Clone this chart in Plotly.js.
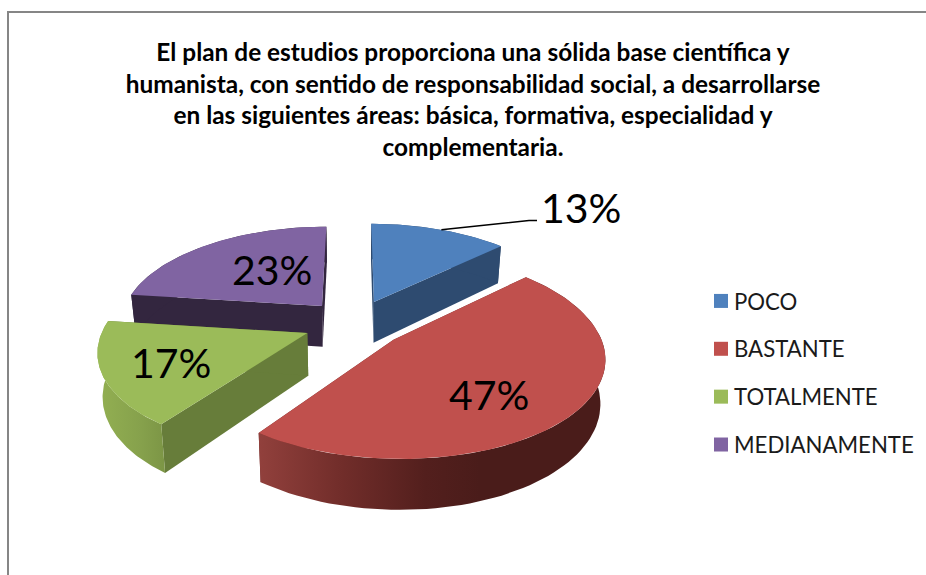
<!DOCTYPE html>
<html>
<head>
<meta charset="utf-8">
<script src="https://cdn.plot.ly/plotly-3.0.0.min.js"></script>
<style>html,body{margin:0;padding:0;background:#fff;overflow:hidden}#chart{width:926px;height:575px}</style>
</head>
<body>
<div id="chart"></div>
<script>
// Data
const categories = ['POCO', 'BASTANTE', 'TOTALMENTE', 'MEDIANAMENTE'];
const percentages = [13, 47, 17, 23];
const titleLines = [
  'El plan de estudios proporciona una sólida base científica y',
  'humanista, con sentido de responsabilidad social, a desarrollarse',
  'en las siguientes áreas: básica, formativa, especialidad y',
  'complementaria.'
];

// Styles
const topColors = ['#4f81bd', '#c0504d', '#9bbb59', '#8064a2'];
const cutColors = ['#2e4b70', '#6b2a28', '#677d3a', '#33263f'];
const labelPos = [[581, 207], [489, 394], [171, 362], [272, 269]];
const FONT = 'Lato, Carlito, Calibri, sans-serif';

// Projection of the tilted, exploded pie into page coordinates
const cam = {x0: 354.5, y0: 323.4, A: 202.5, B: 96, k: 0.15, px: 1.06, explode: 0.25, depth: 42, shrink: 0.98};
function project(u, v, bottom) {
  const w = 1 - cam.k * v;
  let x = cam.x0 + cam.A * u / Math.pow(w, cam.px);
  let y = cam.y0 + cam.B * v / w;
  if (bottom) {
    x = cam.x0 + (x - cam.x0) * cam.shrink;
    y += cam.depth / w;
  }
  return [x, y];
}
function slicePoint(a, mid, r, bottom) {
  const e = cam.explode;
  return project(e * Math.sin(mid) + r * Math.sin(a), -e * Math.cos(mid) - r * Math.cos(a), bottom);
}
function arc(a0, a1, mid, bottom) {
  const pts = [], n = 80;
  for (let i = 0; i <= n; i++) pts.push(slicePoint(a0 + (a1 - a0) * i / n, mid, 1, bottom));
  return pts;
}
function poly(pts, color, gradient) {
  const t = {
    type: 'scatter', mode: 'lines', x: pts.map(p => p[0]).concat(pts[0][0]),
    y: pts.map(p => p[1]).concat(pts[0][1]), fill: 'toself', fillcolor: color,
    line: {width: 0}, showlegend: false, hoverinfo: 'skip'
  };
  if (gradient) t.fillgradient = gradient;
  return t;
}

const total = percentages.reduce((a, b) => a + b, 0);
const slices = [];
let acc = 0;
percentages.forEach((p, i) => {
  const a0 = acc / total * 2 * Math.PI;
  acc += p;
  const a1 = acc / total * 2 * Math.PI;
  slices.push({i, a0, a1, mid: (a0 + a1) / 2});
});

const arcGradients = {
  1: {type: 'horizontal', start: 260, stop: 480,
      colorscale: [[0, '#91403c'], [0.35, '#732e2b'], [0.75, '#531f1d'], [1, '#4a1c1a']]},
  2: {type: 'horizontal', start: 97, stop: 170,
      colorscale: [[0, '#93b052'], [0.6, '#86a14c'], [1, '#7a9344']]}
};

// Back slices first so that the nearer ones cover them
const paintOrder = [3, 0, 2, 1];
const traces = [];
paintOrder.forEach(idx => {
  const s = slices[idx];
  const apexT = slicePoint(0, s.mid, 0, false), apexB = slicePoint(0, s.mid, 0, true);
  const wall = a => [apexT, slicePoint(a, s.mid, 1, false), slicePoint(a, s.mid, 1, true), apexB];
  traces.push(poly(wall(s.a0), cutColors[idx]));
  traces.push(poly(wall(s.a1), cutColors[idx]));
  const outer = arc(s.a0, s.a1, s.mid, false).concat(arc(s.a0, s.a1, s.mid, true).reverse());
  traces.push(poly(outer, cutColors[idx], arcGradients[idx]));
  traces.push(poly([apexT].concat(arc(s.a0, s.a1, s.mid, false)), topColors[idx]));
});

// Legend entries
categories.forEach((c, i) => traces.push({
  type: 'scatter', mode: 'markers', x: [null], y: [null], name: c, legendgroup: c,
  marker: {symbol: 'square', size: 14, color: topColors[i]}, hoverinfo: 'skip'
}));

const annotations = percentages.map((p, i) => ({
  x: labelPos[i][0], y: labelPos[i][1], xref: 'x', yref: 'y', text: p + '%', showarrow: false,
  xanchor: 'center', yanchor: 'middle', font: {family: FONT, size: 41, color: '#000'}
}));

const leaderStart = slicePoint(slices[0].a0 + 0.42, slices[0].mid, 1, false);
const shapes = [
  {type: 'line', xref: 'x', yref: 'y', x0: 8, x1: 926, y0: 12, y1: 12, line: {color: '#868686', width: 2}},
  {type: 'line', xref: 'x', yref: 'y', x0: 8, x1: 8, y0: 11, y1: 575, line: {color: '#868686', width: 2}},
  {type: 'path', xref: 'x', yref: 'y', path: `M${leaderStart[0]},${leaderStart[1]} L529,220.5 L537,220.5`,
   line: {color: '#000', width: 1.5}}
];

const layout = {
  width: 926, height: 575, margin: {l: 0, r: 0, t: 0, b: 0},
  paper_bgcolor: '#fff', plot_bgcolor: '#fff',
  title: {
    text: titleLines.map(l => `<span style="font-size:24.4px">${l}</span>`).join('<br>'),
    font: {family: FONT, size: 24.3, color: '#000', weight: 700},
    x: 473 / 926, xanchor: 'center', y: 1 - 61 / 575, yanchor: 'top'
  },
  xaxis: {range: [0, 926], visible: false, fixedrange: true},
  yaxis: {range: [575, 0], visible: false, fixedrange: true},
  legend: {
    x: 701 / 926, y: 1 - 280 / 575, xanchor: 'left', yanchor: 'top',
    font: {family: FONT, size: 22.2, color: '#1a1a1a'}, tracegroupgap: 16,
    itemwidth: 30, bgcolor: 'rgba(0,0,0,0)', traceorder: 'grouped'
  },
  annotations, shapes
};
Plotly.newPlot('chart', traces, layout, {displayModeBar: false, staticPlot: true}).then(() => {
  // The reference keeps its legend text closer to the swatches than Plotly's minimum
  document.querySelectorAll('.legendtext').forEach(t => {
    t.setAttribute('x', parseFloat(t.getAttribute('x')) - 7);
  });
});
</script>
</body>
</html>
